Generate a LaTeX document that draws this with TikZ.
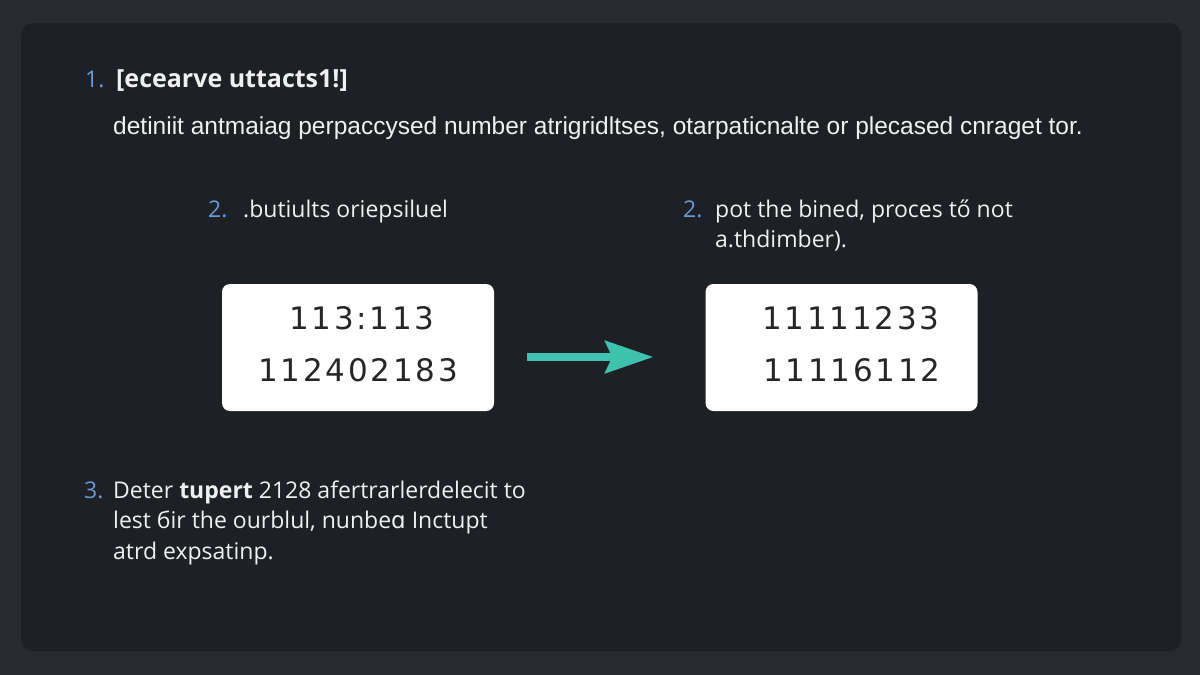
\documentclass[tikz,border=0pt]{standalone}
\usepackage{fontspec}
\setmainfont{Open Sans}
\newfontfamily\narrowfont{Liberation Sans}
\newfontfamily\dejavu{DejaVu Sans}
\newfontfamily\digitfont[LetterSpace=9]{DejaVu Sans}
\usetikzlibrary{arrows.meta,positioning}
\definecolor{pagebg}{HTML}{272A2F}
\definecolor{panelbg}{HTML}{1D2025}
\definecolor{itemblue}{HTML}{6A9AD8}
\definecolor{softwhite}{HTML}{F0F0F0}
\definecolor{flowteal}{HTML}{3FC1B0}
\begin{document}
\begin{tikzpicture}[x=1pt, y=-1pt,
    txt/.style={text=softwhite, anchor=base west, inner sep=0pt, font=\fontsize{23}{27}\selectfont},
    num/.style={txt, text=itemblue},
    card/.style={fill=white, rounded corners=8pt, minimum width=272pt, minimum height=127pt, inner sep=0pt},
    digits/.style={text=black!85, inner sep=0pt, font=\digitfont\fontsize{31}{36}\selectfont},
    flow/.style={draw=flowteal, line width=8pt, -{Stealth[length=48pt, width=32pt, inset=7pt]}}
]
\useasboundingbox (0,0) rectangle (1200,675);

% Panel
\fill[pagebg] (0,0) rectangle (1200,675);
\fill[panelbg, rounded corners=12pt] (21,23) rectangle (1181,651);

% Heading
\node[num] (n1) at (85,87) {1.};
\node[txt, font=\bfseries\fontsize{25}{29}\selectfont] (head) at (116,87) {[ecearve uttacts1!]};
\node[txt, font=\narrowfont\fontsize{24.5}{28}\selectfont] (intro) at (113,134) {detiniit antmaiag perpaccysed number atrigridltses, otarpaticnalte or plecased cnraget tor.};

% Step 2, left and right
\node[num] (n2a) at (208,217) {2.};
\node[txt] (step2a) at (243,217) {.butiults oriepsiluel};
\node[num] (n2b) at (683,217) {2.};
\node[txt] (step2b) at (715,217) {pot the bined, proces tő not};
\node[txt] (step2c) at (715,247) {a.thdimber).};

% Cards
\node[card] (leftcard) at (358,347.5) {};
\node[card] (rightcard) at (841.5,347.5) {};
\node[digits] (la) at (362,318) {113:113};
\node[digits] (lb) at (358,370) {112402183};
\node[digits] (ra) at (851,318) {11111233};
\node[digits] (rb) at (852,370) {11116112};

% Arrow
\draw[flow, shorten <=33pt, shorten >=52pt] ([yshift=-9.5pt]leftcard.east) -- ([yshift=-9.5pt]rightcard.west);

% Step 3
\node[num] (n3) at (84,498) {3.};
\node[txt] (step3a) at (113,498) {Deter \textbf{tupert} 2128 afertrarlerdelecit to};
\node[txt] (step3b) at (113,528) {lest бir the ourblul, nunbe{\dejavu ɑ} Inctupt};
\node[txt] (step3c) at (113,559) {atrd expsatinp.};

\end{tikzpicture}
\end{document}
